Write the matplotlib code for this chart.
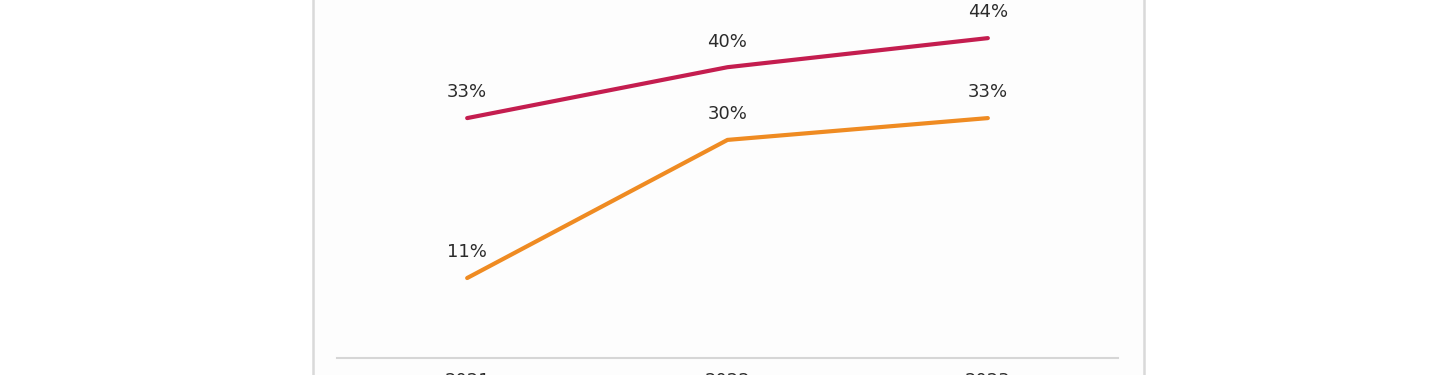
import matplotlib
matplotlib.use('Agg')
import matplotlib.pyplot as plt
from matplotlib.lines import Line2D
from matplotlib.patches import Rectangle

years = ["2021", "2022", "2023"]
red_values = [33, 40, 44]
orange_values = [11, 30, 33]

RED = "#c41d4f"
ORANGE = "#ef8b22"
TEXT = "#2b2b2b"
GRID = "#d6d6d6"

W, H = 1440, 375
fig = plt.figure(figsize=(W / 100, H / 100), dpi=100)
fig.patch.set_facecolor("white")

# panel background between the two visible border edges
fig.add_artist(Rectangle((313 / W, 0), (1144 - 313) / W, 1, transform=fig.transFigure,
                         facecolor="#fdfdfd", edgecolor="none", zorder=0))

# axes placed so the baseline sits at y=358 px and the top is cut at the image edge
px_per_pct = 7.27
base_y = 358
ax = fig.add_axes([337 / W, (H - base_y) / H, (1118 - 337) / W, base_y / H])
ax.patch.set_visible(False)
ax.set_xlim(-0.5, 2.5)
ax.set_ylim(0, base_y / px_per_pct)

x = range(len(years))
for vals, col in [(red_values, RED), (orange_values, ORANGE)]:
    ax.plot(x, vals, color=col, lw=3, solid_capstyle="round", solid_joinstyle="round")
    for xi, v in zip(x, vals):
        ax.annotate(f"{v}%", (xi, v), xytext=(0, 18.5), textcoords="offset points",
                    ha="center", va="center", fontsize=13, color=TEXT,
                    family="DejaVu Sans")

for s in ["top", "right", "left"]:
    ax.spines[s].set_visible(False)
ax.spines["bottom"].set_color(GRID)
ax.spines["bottom"].set_linewidth(1.5)
ax.set_yticks([])
ax.set_xticks(list(x))
ax.set_xticklabels(years, fontsize=13, color=TEXT, family="DejaVu Sans")
ax.tick_params(axis="x", length=0, pad=10)

# panel border (left and right edges visible in the crop)
for xp in (313, 1144):
    fig.add_artist(Line2D([xp / W, xp / W], [0, 1], transform=fig.transFigure,
                          color="#d9d9d9", lw=1.8))

fig.savefig("out.png", dpi=100)
